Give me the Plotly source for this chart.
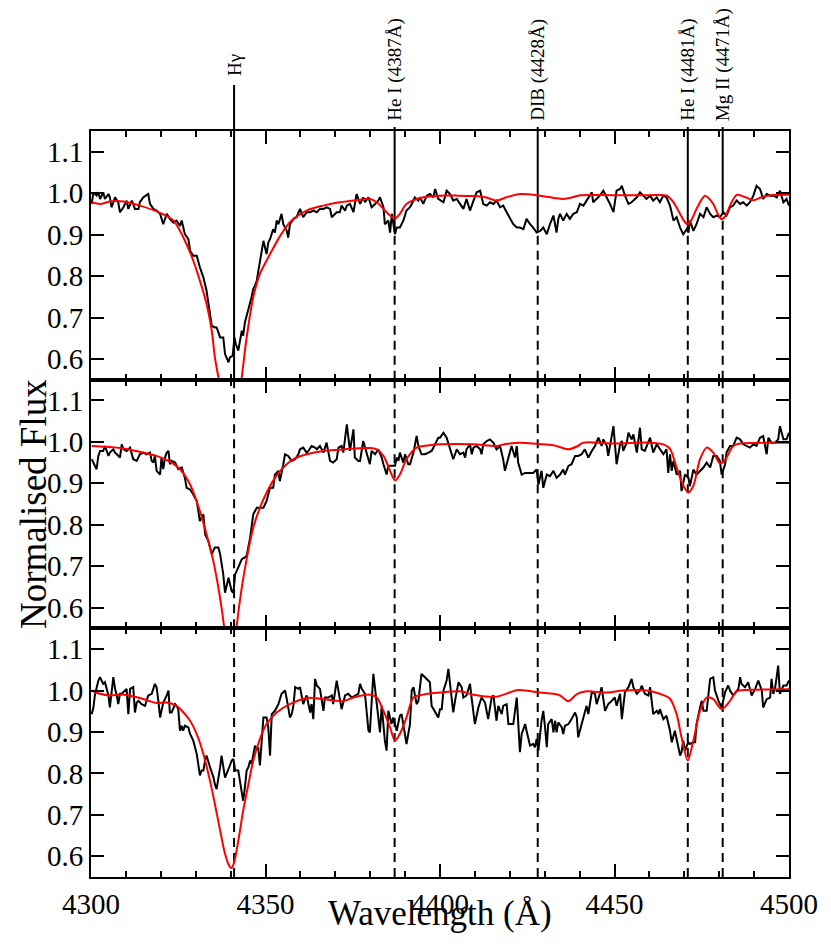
import numpy as np
import plotly.graph_objects as go
from plotly.subplots import make_subplots

# ---------------- Panel 1 (top) ----------------
wl_obs_1 = [4300.2,4300.7,4301.6,4302.1,4302.6,4303.5,4304.0,4305.0,4305.4,4305.9,4306.9,4307.8,4308.3,4309.3,4310.2,4310.7,
 4311.7,4312.6,4313.6,4314.0,4315.0,4316.4,4316.9,4317.9,4318.8,4319.8,4320.7,4321.7,4322.6,4323.6,4324.5,4325.5,4326.0,
 4326.9,4327.9,4328.4,4329.3,4330.3,4331.2,4332.2,4333.1,4333.6,4334.6,4335.5,4336.0,4337.0,4337.9,4338.4,4339.4,4339.8,
 4340.6,4341.1,4341.5,4342.2,4343.2,4343.6,4344.1,4344.6,4345.1,4345.6,4346.0,4346.5,4347.0,4347.5,4348.4,4349.4,4350.3,
 4350.8,4351.3,4352.2,4352.7,4353.2,4353.7,4354.6,4355.1,4355.6,4356.1,4356.5,4357.0,4358.0,4358.9,4359.9,4360.8,4361.8,
 4362.8,4363.7,4364.7,4365.6,4366.6,4367.5,4368.5,4369.0,4370.4,4371.3,4371.8,4372.8,4373.3,4374.2,4375.2,4376.1,4377.1,
 4378.0,4378.5,4379.5,4380.4,4381.4,4382.3,4382.8,4383.8,4384.2,4385.2,4385.7,4386.2,4387.1,4387.6,4388.5,4389.5,4390.4,
 4391.4,4391.9,4392.8,4393.8,4394.3,4395.2,4396.2,4397.1,4398.1,4398.6,4399.5,
 4401.0,4401.9,4402.9,4403.8,4404.8,4405.7,4406.7,4407.6,4408.6,4409.6,4410.5,4411.5,4412.4,4413.4,4414.3,4415.3,4416.2,
 4417.2,4418.1,4419.1,4420.1,4421.0,4422.0,4422.9,4423.9,4424.8,4425.8,4426.7,4427.7,4428.7,4429.6,4430.6,4431.5,4432.5,
 4433.4,4433.9,4434.4,4435.3,4436.3,4437.2,4438.2,4439.2,4440.1,4441.1,4442.0,4443.0,4443.5,4443.9,4444.9,4445.8,4446.8,
 4447.8,4448.7,4449.7,4450.6,4451.6,4452.1,4453.0,4454.0,4454.9,4456.4,4457.3,4458.3,4459.2,4460.2,4461.1,4462.1,4463.0,
 4464.0,4464.9,4465.9,4466.9,4467.8,4468.8,4469.7,4470.7,4471.2,4471.6,4472.6,4473.5,4474.5,4475.5,4476.4,4477.4,4478.3,
 4479.3,4480.2,4481.2,4482.1,4483.1,4484.0,4485.0,4486.0,4486.9,4487.9,4488.8,4489.8,4490.7,4491.7,4492.6,4493.6,4494.6,
 4495.5,4496.5,4497.4,4498.4,4499.3,4500.0]
flux_obs_1 = [0.974,1.002,0.994,1.002,0.986,1.002,0.986,0.998,0.990,0.966,0.990,0.978,0.954,0.966,0.982,0.962,
 0.982,0.962,0.962,0.978,0.990,0.998,0.974,0.962,0.958,0.950,0.925,0.950,0.938,0.929,0.934,0.921,0.934,
 0.901,0.889,0.861,0.849,0.849,0.821,0.797,0.765,0.733,0.680,0.676,0.676,0.652,0.652,0.612,0.592,0.604,
 0.608,0.652,0.636,0.620,0.668,0.656,0.688,0.704,0.720,0.733,0.749,0.769,0.777,0.789,0.837,0.885,0.853,
 0.881,0.889,0.913,0.905,0.934,0.925,0.950,0.925,0.917,0.909,0.893,0.925,0.938,0.942,0.962,0.942,0.954,
 0.954,0.958,0.954,0.962,0.962,0.966,0.962,0.942,0.954,0.954,0.970,0.958,0.970,0.974,0.954,0.998,0.974,
 0.990,0.978,0.990,0.966,0.974,0.982,0.990,0.966,0.925,0.934,0.905,0.950,0.901,0.917,0.917,0.934,0.958,
 0.966,0.974,0.990,0.982,0.990,0.974,0.994,0.998,0.990,1.010,0.986,
 0.978,1.006,0.998,0.982,0.986,0.974,0.962,0.986,0.958,0.982,1.002,1.006,0.974,0.970,0.978,0.974,0.982,
 0.966,0.970,0.954,0.938,0.925,0.917,0.917,0.913,0.938,0.925,0.917,0.905,0.909,0.917,0.901,0.925,0.946,
 0.905,0.938,0.950,0.934,0.950,0.938,0.950,0.954,0.974,0.970,0.982,0.994,1.002,0.978,0.986,0.994,1.006,
 0.990,0.974,0.954,1.006,1.010,1.018,0.994,0.974,0.978,0.990,1.002,0.994,0.986,0.994,0.982,0.990,0.978,
 0.994,0.990,0.970,0.934,0.942,0.917,0.901,0.913,0.905,0.934,0.909,0.925,0.950,0.942,0.966,0.950,0.942,
 0.946,0.942,0.954,0.946,0.966,0.970,0.982,0.974,0.978,0.970,0.978,0.994,1.018,1.010,0.986,0.998,0.994,
 0.994,0.990,1.006,0.978,0.986,0.970]
wl_mod_1 = [4300.2,4302.6,4305.4,4309.3,4314.0,4318.8,4323.6,4328.4,4331.2,4333.1,4334.6,4335.5,4336.5,4337.5,4338.5,
 4340.0,4341.5,4342.5,4343.2,4344.6,4346.5,4348.4,4351.3,4354.2,4357.0,4361.8,4366.6,4371.3,4376.1,4380.0,4381.9,
 4383.8,4385.7,4387.1,4388.5,4390.4,4395.2,4400.0,4405.0,4409.6,4413.0,4416.2,4419.0,4423.0,4428.7,4433.0,4435.3,
 4438.0,4440.1,4450.0,4460.0,4465.0,4466.9,4468.8,4470.0,4470.9,4472.0,4473.5,4475.0,4475.9,4477.0,4478.3,4479.6,
 4480.7,4481.8,4483.1,4485.0,4487.0,4489.8,4492.0,4494.6,4500.0]
flux_mod_1 = [0.978,0.974,0.980,0.980,0.970,0.956,0.934,0.857,0.789,0.733,0.668,0.604,0.556,0.51,0.48,
 0.46,0.48,0.51,0.556,0.652,0.749,0.805,0.853,0.897,0.930,0.958,0.970,0.978,0.983,0.986,0.978,
 0.962,0.946,0.939,0.950,0.974,0.990,0.994,0.994,0.993,0.990,0.982,0.990,0.998,0.994,0.988,0.986,
 0.990,0.995,0.995,0.995,0.994,0.978,0.950,0.932,0.925,0.935,0.962,0.985,0.994,0.988,0.974,0.950,
 0.937,0.945,0.970,0.996,0.992,0.983,0.990,0.995,0.996]

# ---------------- Panel 2 (middle) ----------------
wl_obs_2 = [4300.2,4300.7,4301.6,4302.1,4302.6,4303.5,4304.0,4305.0,4305.4,4306.4,4306.9,4307.4,4308.3,4308.8,4309.3,4310.2,
 4311.2,4312.1,4313.1,4314.0,4315.0,4315.9,4316.9,4317.4,4317.9,4318.3,4318.8,4319.8,4320.2,4320.7,4321.2,4321.7,4322.2,
 4322.6,4323.1,4324.1,4325.0,4326.0,4326.9,4327.4,4328.4,4329.3,4330.3,4331.2,4332.2,4332.7,4333.6,4334.6,4335.5,4336.5,
 4337.0,4337.9,4338.4,4339.4,4340.3,4340.8,4341.3,4342.2,4343.2,4344.1,4344.6,4345.6,4346.5,4347.5,4348.4,4349.4,4350.3,
 4351.3,4352.2,4352.7,4353.7,4354.1,4355.1,4355.6,4356.5,4357.5,4358.5,4359.4,4359.9,4360.8,4361.8,4362.3,4363.2,4364.2,
 4364.7,4365.6,4366.6,4367.5,4368.5,4369.4,4370.4,4370.9,4371.8,4372.3,4373.3,4373.7,4374.2,4375.2,4375.6,4376.6,4377.1,
 4378.0,4379.0,4379.9,4380.4,4381.4,4382.3,4383.3,4383.8,4384.7,4385.2,4386.1,4387.1,4387.6,4388.1,4388.5,4389.5,4390.0,
 4390.9,4391.4,4392.4,4393.3,4393.8,4394.7,4395.7,4396.7,4397.6,4398.6,4399.5,
 4400.0,4401.0,4401.9,4402.9,4403.8,4404.8,4405.7,4406.7,4407.2,4407.6,4408.6,4409.1,4409.6,4410.5,4411.5,4411.9,4412.4,
 4413.4,4414.3,4415.3,4416.2,4417.2,4418.1,4418.6,4419.6,4420.5,4421.5,4422.0,4422.4,4423.4,4424.4,4425.3,4426.7,4427.7,
 4428.2,4429.1,4429.6,4430.6,4431.5,4432.5,4433.4,4434.4,4435.3,4435.8,4436.8,4437.7,4438.7,4439.6,4440.6,4441.5,4442.5,
 4443.5,4444.4,4445.4,4446.3,4446.8,4447.8,4448.2,4448.7,4449.7,4450.6,4451.6,4452.1,4452.5,4453.5,4454.0,4454.9,4455.4,
 4456.4,4457.3,4457.8,4458.7,4460.2,4461.1,4462.1,4463.0,4464.0,4464.9,4465.4,4465.9,4466.4,4466.9,4467.8,4468.8,4469.2,
 4470.2,4471.2,4471.6,4472.6,4473.5,4474.5,4475.5,4476.4,4477.4,4478.3,4479.3,4480.2,4480.7,4481.7,4482.1,4483.1,4484.0,
 4485.0,4486.0,4486.9,4487.9,4488.8,4489.8,4490.7,4491.7,4492.6,4493.6,4494.1,4495.0,4496.0,4496.9,4497.4,4498.4,4499.3,
 4500.0]
flux_obs_2 = [0.958,0.950,0.934,0.966,0.978,0.978,0.990,0.966,0.974,0.982,0.974,0.970,0.962,0.994,0.982,0.978,
 0.986,0.958,0.954,0.970,0.974,0.970,0.974,0.954,0.950,0.966,0.930,0.921,0.962,0.934,0.962,0.974,0.978,
 0.946,0.954,0.950,0.934,0.938,0.913,0.889,0.885,0.873,0.857,0.809,0.825,0.777,0.761,0.729,0.745,0.745,
 0.729,0.680,0.636,0.672,0.640,0.636,0.680,0.697,0.717,0.721,0.725,0.769,0.825,0.841,0.841,0.841,0.857,
 0.889,0.889,0.921,0.930,0.905,0.946,0.970,0.966,0.954,0.958,0.970,0.982,0.986,0.974,0.978,0.990,0.986,
 0.982,0.990,0.974,0.998,0.954,0.950,0.958,0.986,0.990,0.974,1.042,1.018,0.978,1.030,0.962,0.954,0.954,
 1.002,0.970,0.946,0.978,0.970,0.982,0.962,0.946,0.921,0.942,0.942,0.942,0.962,0.954,0.974,0.950,0.970,
 0.946,0.946,0.974,1.014,0.990,0.970,0.970,0.974,0.978,0.994,1.010,
 1.010,1.022,1.010,0.982,0.958,0.982,0.970,0.974,0.962,0.982,0.994,0.970,0.986,0.990,0.982,0.970,0.994,
 1.002,1.006,0.998,0.982,0.990,0.958,0.930,0.962,0.990,0.962,0.990,0.950,0.921,0.925,0.925,0.925,0.933,
 0.897,0.930,0.889,0.921,0.917,0.930,0.913,0.921,0.933,0.921,0.942,0.946,0.966,0.966,0.970,0.982,0.962,
 0.978,0.990,1.010,0.990,1.006,0.990,0.966,0.990,1.038,0.946,0.994,1.002,0.978,0.998,1.022,1.006,1.018,
 0.974,1.034,0.982,0.978,1.010,0.974,0.994,0.982,0.970,0.982,0.925,0.970,0.930,0.954,0.921,0.930,0.881,
 0.921,0.913,0.893,0.933,0.921,0.930,0.938,0.950,0.938,0.966,0.966,0.954,0.921,0.946,0.974,0.990,0.990,
 1.010,1.006,0.994,0.990,0.986,0.994,0.990,1.010,1.014,0.970,1.010,0.998,0.998,1.006,1.038,1.006,1.006,
 1.022]
wl_mod_2 = [4300.2,4304.5,4309.3,4314.0,4318.8,4322.6,4325.5,4328.4,4331.2,4333.1,4334.6,4336.0,4337.4,4338.2,4339.0,
 4340.2,4341.3,4341.7,4343.2,4344.6,4346.5,4348.4,4350.3,4352.7,4355.1,4358.0,4361.8,4366.6,4371.3,4376.1,4380.0,
 4381.9,4383.8,4385.7,4387.1,4388.5,4390.4,4393.3,4397.1,4400.0,4409.6,4414.0,4416.2,4419.0,4423.0,4428.0,4432.5,
 4436.8,4439.5,4441.0,4450.0,4460.0,4464.0,4465.9,4467.8,4469.7,4471.2,4472.6,4474.5,4476.4,4478.3,4480.2,4481.5,
 4482.1,4484.0,4486.0,4495.0,4500.0]
flux_mod_2 = [0.990,0.988,0.984,0.976,0.966,0.952,0.934,0.897,0.833,0.777,0.729,0.672,0.600,0.550,0.50,
 0.47,0.50,0.550,0.648,0.717,0.793,0.841,0.877,0.913,0.938,0.958,0.970,0.978,0.981,0.984,0.985,
 0.982,0.966,0.930,0.907,0.921,0.958,0.986,0.992,0.994,0.994,0.991,0.990,0.995,0.998,0.995,0.992,
 0.982,0.990,0.998,0.996,0.998,0.994,0.983,0.938,0.894,0.878,0.894,0.958,0.986,0.974,0.948,0.955,
 0.962,0.990,0.996,0.998,0.998]

# ---------------- Panel 3 (bottom) ----------------
wl_obs_3 = [4300.2,4300.7,4301.1,4301.6,4302.1,4302.6,4303.5,4304.0,4304.5,4305.0,4305.4,4305.9,4306.4,4306.9,4307.4,4307.8,
 4308.3,4308.8,4309.3,4310.2,4310.7,4311.2,4312.1,4312.6,4313.1,4313.6,4314.5,4315.5,4316.4,4317.4,4318.3,4318.8,4319.3,
 4319.8,4320.2,4320.7,4321.7,4322.2,4322.6,4323.1,4324.1,4324.5,4325.0,4325.5,4326.0,4326.4,4326.9,4327.9,4328.4,4328.8,
 4329.3,4330.3,4331.2,4331.7,4332.2,4332.7,4333.1,4334.1,4335.1,4335.5,4336.0,4337.0,4337.4,4338.4,4338.9,4339.8,4340.3,
 4340.8,4341.3,4342.2,4343.2,4343.6,4344.1,4344.6,4345.1,4345.6,4346.0,4346.5,4347.0,4347.5,4347.9,4348.4,4348.9,4349.4,
 4350.3,4350.8,4351.3,4351.8,4352.7,4353.7,4354.6,4355.6,4356.1,4357.0,4357.5,4358.0,4358.5,4359.4,4359.9,4360.8,4361.8,
 4362.3,4362.8,4363.2,4363.7,4364.2,4364.7,4365.6,4366.6,4367.0,4368.0,4369.0,4369.4,4370.4,4370.9,4371.8,4372.8,4373.7,
 4374.7,4375.6,4376.6,4377.1,4377.6,4378.5,4379.5,4379.9,4380.4,4380.9,4381.4,4382.3,4382.8,4383.3,4384.2,4384.7,4385.2,
 4386.1,4386.6,4387.6,4388.5,4389.0,4390.0,4390.4,4391.4,4391.9,4392.4,4393.3,4393.8,4394.7,4395.7,4396.7,4397.1,4397.6,
 4398.6,4399.5,
 4400.0,4400.5,4401.0,4401.9,4402.4,4402.9,4403.8,4404.3,4405.3,4406.2,4406.7,4407.6,4408.6,4409.1,4410.0,4411.0,4411.9,
 4412.9,4413.8,4414.8,4415.3,4416.2,4416.7,4417.7,4418.1,4419.1,4419.6,4420.5,4421.0,4422.0,4422.9,4423.4,4424.4,4424.8,
 4425.8,4426.7,4427.2,4427.7,4428.2,4429.1,4429.6,4430.1,4430.6,4431.0,4432.0,4432.5,4433.0,4433.4,4433.9,4434.9,4435.3,
 4435.8,4436.8,4437.7,4438.7,4439.2,4439.6,4440.6,4441.5,4442.0,4442.5,4443.5,4444.4,4444.9,4445.8,4446.3,4447.3,4448.2,
 4449.2,4450.1,4450.6,4451.6,4452.1,4453.0,4454.0,4454.9,4455.4,4456.4,4457.3,4457.8,4458.7,4459.7,4460.2,4461.1,4462.1,
 4462.6,4463.0,4464.0,4464.9,4465.9,4466.4,4467.3,4467.8,4468.8,4469.2,4469.7,4470.2,4471.1,4471.6,4472.6,4473.1,4473.5,
 4474.5,4475.0,4475.5,4476.4,4477.4,4478.3,4478.8,4479.8,4480.7,4481.7,4482.6,4483.1,4484.0,4485.5,4486.0,4486.4,4487.4,
 4488.3,4489.3,4490.3,4491.2,4492.2,4492.6,4493.6,4494.6,4495.0,4495.5,4496.0,4496.9,4497.4,4498.4,4499.3,4500.0]
flux_obs_3 = [0.943,0.959,0.988,1.004,1.024,1.032,1.016,1.020,1.000,0.988,0.959,0.992,1.032,1.004,0.988,0.967,
 0.992,0.992,0.996,1.004,0.943,1.004,1.008,0.947,0.971,0.975,0.967,0.963,0.988,0.992,1.016,1.008,0.975,
 0.935,0.951,0.971,0.988,1.000,0.947,0.947,0.967,0.963,0.955,0.903,0.915,0.903,0.915,0.911,0.895,0.887,
 0.879,0.847,0.795,0.807,0.807,0.831,0.843,0.815,0.790,0.774,0.762,0.815,0.843,0.790,0.799,0.819,0.831,
 0.835,0.807,0.807,0.754,0.734,0.766,0.807,0.815,0.831,0.823,0.843,0.867,0.859,0.863,0.819,0.871,0.935,
 0.935,0.911,0.843,0.943,0.951,0.967,0.992,1.000,0.979,0.935,0.943,0.963,1.008,1.004,1.008,0.967,0.988,
 0.963,0.947,0.967,0.931,1.028,1.012,1.004,0.951,0.983,0.983,0.988,0.967,1.024,1.000,0.955,0.988,0.992,
 0.983,0.988,0.992,1.016,1.004,0.992,0.903,0.899,0.983,1.040,1.004,0.939,0.899,0.963,0.879,0.855,0.951,
 0.919,0.935,0.903,0.939,0.943,0.895,0.871,0.919,1.000,1.008,0.967,0.975,1.040,1.032,1.024,1.020,0.963,
 0.947,0.935,
 0.955,0.955,1.000,1.024,1.052,1.016,0.947,0.975,1.020,1.008,0.983,0.988,1.016,0.979,0.919,0.959,0.983,
 0.971,0.931,0.983,0.988,0.927,0.963,0.943,0.963,0.967,0.919,0.919,0.919,0.983,0.851,0.895,0.919,0.903,
 0.867,0.871,0.863,0.883,0.855,0.927,0.951,0.911,0.863,0.919,0.931,0.899,0.927,0.899,0.923,0.911,0.895,
 0.915,0.919,0.931,0.947,0.935,0.887,0.919,0.947,0.963,0.943,0.996,0.992,0.967,0.992,1.008,0.951,0.967,
 0.975,0.983,0.963,0.992,0.931,0.996,1.008,1.028,1.008,0.992,1.000,1.012,0.992,0.988,1.008,0.943,0.951,
 0.943,0.955,0.931,0.939,0.903,0.875,0.903,0.883,0.843,0.851,0.879,0.855,0.875,0.871,0.875,0.875,0.919,
 0.959,0.975,0.951,0.951,1.028,1.032,1.000,0.975,0.959,0.996,1.012,1.000,0.988,1.004,1.032,1.016,1.008,
 1.020,0.988,1.004,1.024,1.000,0.959,0.979,0.983,1.028,0.992,1.004,1.060,0.992,1.012,1.012,1.024]
wl_mod_3 = [4300.2,4302.6,4305.4,4309.3,4314.0,4316.9,4318.8,4321.7,4324.5,4326.5,4328.4,4330.3,4332.2,4334.1,4335.5,
 4337.0,4338.4,4339.6,4340.3,4341.0,4342.2,4343.6,4345.1,4346.5,4348.4,4350.3,4353.2,4357.0,4361.8,4366.6,4370.4,
 4372.3,4375.2,4380.0,4381.9,4383.8,4385.7,4387.1,4388.5,4390.4,4392.4,4395.2,4400.0,4405.7,4409.6,4416.2,4422.4,
 4428.7,4432.5,4434.4,4436.8,4439.2,4442.0,4447.8,4452.5,4459.2,4463.0,4465.9,4467.8,4469.2,4471.0,4472.6,4474.5,
 4476.4,4478.3,4480.7,4483.1,4485.0,4490.7,4500.0]
flux_mod_3 = [1.000,0.992,0.988,0.990,0.982,0.974,0.970,0.971,0.963,0.947,0.927,0.895,0.847,0.782,0.726,
 0.662,0.606,0.577,0.572,0.585,0.637,0.710,0.774,0.831,0.883,0.919,0.947,0.967,0.982,0.979,0.975,
 0.974,0.983,0.990,0.983,0.951,0.911,0.879,0.895,0.935,0.983,0.990,0.995,0.998,0.990,0.985,1.001,
 0.995,0.992,0.988,0.974,0.991,0.998,0.995,1.000,1.000,0.992,0.980,0.943,0.887,0.831,0.879,0.951,
 0.983,0.979,0.955,0.975,0.998,1.002,1.003]

# ---------------- Line identifications ----------------
line_wl = [4341, 4387, 4428, 4471, 4481]
line_labels = ["H\u03b3", "He I (4387\u00c5)", "DIB (4428\u00c5)", "He I (4481\u00c5)", "Mg II (4471\u00c5)"]
solid_full_panel = [True, False, False, False, False]

x_range = [4300, 4500]
y_range = [0.55, 1.15]
y_ticks = [0.6, 0.7, 0.8, 0.9, 1.0, 1.1]
x_ticks = [4300, 4350, 4400, 4450, 4500]

observed = [(wl_obs_1, flux_obs_1), (wl_obs_2, flux_obs_2), (wl_obs_3, flux_obs_3)]
models = [(wl_mod_1, flux_mod_1), (wl_mod_2, flux_mod_2), (wl_mod_3, flux_mod_3)]

FONT = "Liberation Serif"
# page body has an 8px margin; figure sized to fit the 831x944 window
W, H = 815, 928
ML, MR, MT, MB = 83, 34, 123, 59
plot_h = H - MT - MB

fig = make_subplots(rows=3, cols=1, shared_xaxes=True, vertical_spacing=0)

for i in range(3):
    r = i + 1
    wo, fo = observed[i]
    wm, fm = models[i]
    fig.add_trace(go.Scatter(x=wo, y=fo, mode="lines", line=dict(color="black", width=2),
                             showlegend=False, hoverinfo="skip"), row=r, col=1)
    fig.add_trace(go.Scatter(x=wm, y=fm, mode="lines",
                             line=dict(color="#ff0000", width=2, shape="spline", smoothing=0.8),
                             showlegend=False, hoverinfo="skip"), row=r, col=1)

# vertical markers
dash = "9px,6px"
for k, wl in enumerate(line_wl):
    spec_val = float(np.interp(wl, wl_obs_1, flux_obs_1))
    bottom_solid = y_range[0] if solid_full_panel[k] else spec_val
    fig.add_shape(type="line", x0=wl, x1=wl, y0=bottom_solid, y1=y_range[1],
                  line=dict(color="black", width=2), layer="below", row=1, col=1)
    if not solid_full_panel[k]:
        fig.add_shape(type="line", x0=wl, x1=wl, y0=y_range[0], y1=spec_val,
                      line=dict(color="black", width=2, dash=dash), layer="below", row=1, col=1)
    for r in (2, 3):
        fig.add_shape(type="line", x0=wl, x1=wl, y0=y_range[0], y1=y_range[1],
                      line=dict(color="black", width=2, dash=dash), layer="below", row=r, col=1)

# stubs above the plot and labels
for k, wl in enumerate(line_wl):
    shift = 53 if k == 0 else 8
    stub_top = 1 + (shift - 7 if k == 0 else 4) / plot_h
    fig.add_shape(type="line", xref="x", yref="paper", x0=wl, x1=wl, y0=1, y1=stub_top,
                  line=dict(color="black", width=2))
    fig.add_annotation(x=wl, xref="x", y=1, yref="paper", text=line_labels[k], textangle=-90,
                       showarrow=False, xanchor="center", yanchor="bottom", yshift=shift,
                       font=dict(family=FONT, size=19, color="black"))

# axis titles
fig.add_annotation(x=0.5, xref="paper", y=-MB / plot_h, yref="paper", text="Wavelength (\u00c5)",
                   showarrow=False, xanchor="center", yanchor="bottom", yshift=1,
                   font=dict(family=FONT, size=35, color="black"))
fig.add_annotation(x=0, xref="paper", y=0.5, yref="paper", text="Normalised Flux", showarrow=False,
                   textangle=-90, xanchor="center", yanchor="middle", xshift=-58,
                   font=dict(family=FONT, size=37, color="black"))

axis_common = dict(showline=True, linecolor="black", linewidth=2, mirror="ticks",
                   ticks="inside", ticklen=13, tickwidth=2, tickcolor="black",
                   showgrid=False, zeroline=False, automargin=False,
                   tickfont=dict(family=FONT, size=29, color="black"))
for r in (1, 2, 3):
    fig.update_xaxes(range=x_range, tickvals=x_ticks,
                     minor=dict(dtick=10, ticklen=6, tickwidth=2, ticks="inside", tickcolor="black", showgrid=False),
                     **axis_common, row=r, col=1)
    fig.update_yaxes(range=y_range, tickvals=y_ticks, tickformat=".1f", **axis_common, row=r, col=1)

fig.update_layout(width=W, height=H, margin=dict(l=ML, r=MR, t=MT, b=MB, autoexpand=False),
                  paper_bgcolor="white", plot_bgcolor="white",
                  font=dict(family=FONT, color="black"))

fig.write_html("out.html")
